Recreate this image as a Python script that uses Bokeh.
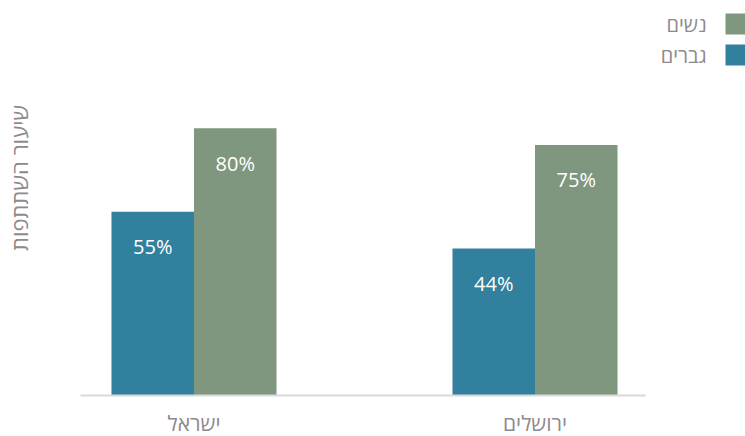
import math
from bokeh.plotting import figure
from bokeh.models import (ColumnDataSource, Range1d, LabelSet, Label, BoxAnnotation)
from bokeh.core.properties import value
from bokeh.transform import dodge
from bokeh.embed import file_html
from bokeh.resources import INLINE

# ---- data ----
regions = ["ישראל", "ירושלים"]
men = [55, 44]
women = [80, 75]
series_names = ["נשים", "גברים"]
axis_title = "שיעור השתתפות"

BLUE = "#31809e"
GREEN = "#7f977f"
GRAY = "#8d8a8e"
FONT = "Open Sans"

pos = [i + 0.5 for i in range(len(regions))]

src = ColumnDataSource(dict(
    pos=pos,
    region=regions,
    men=men,
    women=women,
    men_lbl=[f"{v}%" for v in men],
    women_lbl=[f"{v}%" for v in women],
))

# frame covers the whole canvas; baseline (y=0) sits at 395 px
p = figure(
    width=745, height=436,
    x_range=Range1d(-0.0674, 2.1173),
    y_range=Range1d(-12.275, 118.26),
    output_backend="svg", toolbar_location=None,
    x_axis_location=None, y_axis_location=None,
    min_border_left=0, min_border_right=0,
    min_border_top=0, min_border_bottom=0,
)
p.outline_line_color = None
p.xgrid.grid_line_color = None
p.ygrid.grid_line_color = None

bw = 0.242
p.vbar(x=dodge("pos", -bw / 2), top="men", width=bw,
       source=src, color=BLUE, line_color=None)
p.vbar(x=dodge("pos", bw / 2), top="women", width=bw,
       source=src, color=GREEN, line_color=None)

# category baseline (axis line)
p.segment(x0=[0.1672], x1=[1.8241], y0=[0], y1=[0],
          line_color="#d9d9d9", line_width=2)

for col, lbl, off in (("men", "men_lbl", -bw / 2), ("women", "women_lbl", bw / 2)):
    p.add_layout(LabelSet(
        x=dodge("pos", off), y=col, text=lbl, source=src,
        y_offset=-35, text_align="center", text_baseline="middle",
        text_color="white", text_font=value(FONT), text_font_size="20px"))

# category labels
p.add_layout(LabelSet(
    x="pos", y=0, text="region", source=src,
    y_offset=-35, text_align="center", text_baseline="alphabetic",
    text_color=GRAY, text_font=value(FONT), text_font_size="21px"))

# y axis title
p.add_layout(Label(x=18.5, y=258.5, x_units="screen", y_units="screen",
                   text=axis_title, angle=math.pi / 2,
                   text_align="center", text_baseline="middle",
                   text_font=FONT, text_font_size="22px", text_color=GRAY))

# legend (RTL: swatch on the right)
for i, (name, color) in enumerate(zip(series_names, [GREEN, BLUE])):
    top = 423 - i * 31
    p.add_layout(BoxAnnotation(left=725, right=745, top=top, bottom=top - 21,
                               left_units="screen", right_units="screen",
                               top_units="screen", bottom_units="screen",
                               fill_color=color, fill_alpha=1, line_color=None))
    p.add_layout(Label(x=706, y=top - 10.5, x_units="screen", y_units="screen",
                       text=name, text_align="right", text_baseline="middle",
                       text_font=FONT, text_font_size="20px", text_color=GRAY))

open("out.html", "w").write(file_html(p, INLINE))
